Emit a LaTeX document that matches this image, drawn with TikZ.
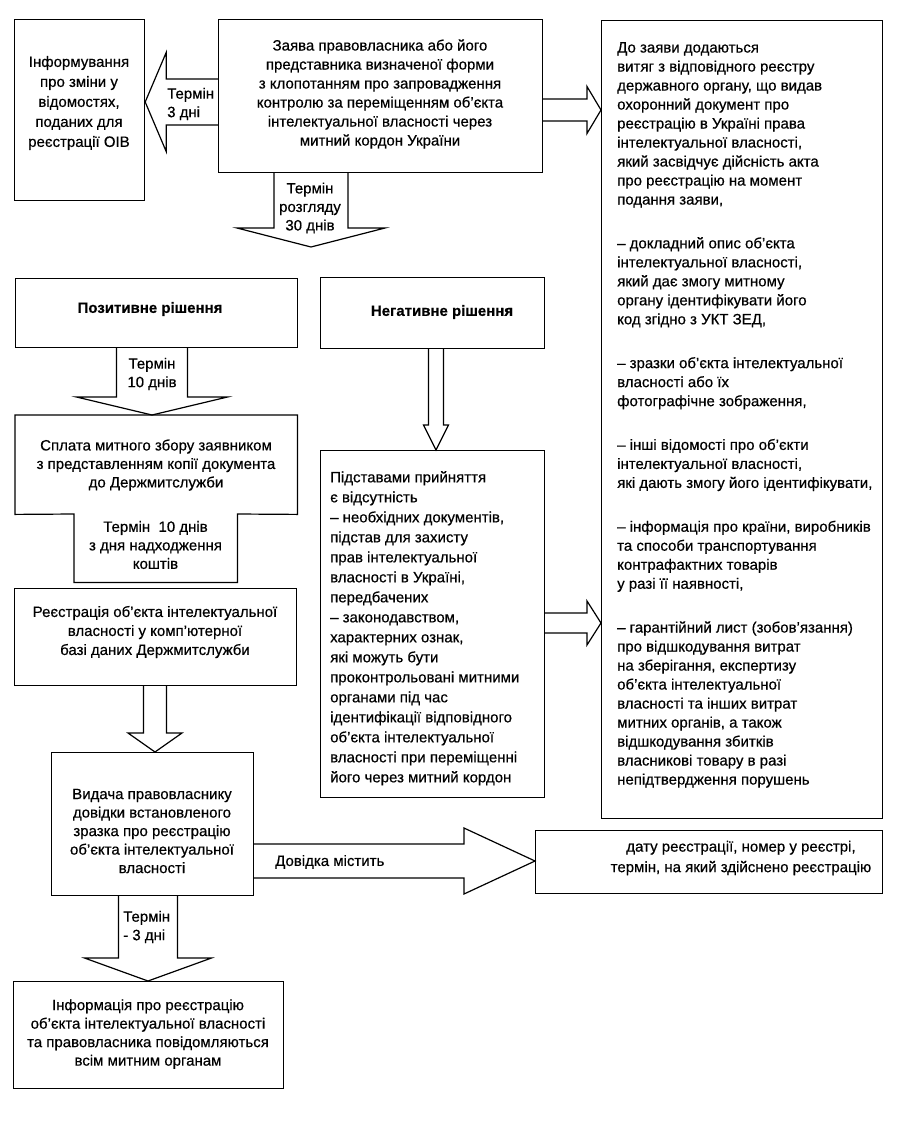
\documentclass[tikz,border=0pt]{standalone}
\usepackage{fontspec}
\setmainfont{Liberation Sans}[FakeBold=0.45]
\usetikzlibrary{calc}
\tikzset{
  box/.style={draw, line width=1.2pt, inner sep=0pt, anchor=north west},
  ghost/.style={inner sep=0pt, anchor=north west},
  blk/.style={draw, line width=1.2pt, line join=miter},
  txt/.style={inner sep=0pt, align=center, font=\fontsize{15}{18.5}\selectfont},
  btxt/.style={inner sep=0pt, align=center, font=\fontsize{15}{18.5}\selectfont\bfseries},
  ltxt/.style={inner sep=0pt, align=left, anchor=north west, font=\fontsize{15}{19}\selectfont},
}
% vertical block arrow: #1 source anchor, #2 tip, #3 shaft half width, #4 head half width, #5 head length
\newcommand\varrow[5]{%
  \draw[blk] let \p1=(#1), \p2=(#2) in
   ({\x2-#3pt},{\y1}) -- ({\x2-#3pt},{\y2+#5pt}) -- ({\x2-#4pt},{\y2+#5pt}) -- ({\x2},{\y2})
   -- ({\x2+#4pt},{\y2+#5pt}) -- ({\x2+#3pt},{\y2+#5pt}) -- ({\x2+#3pt},{\y1});}
% horizontal block arrow: #5 head length (negative = pointing left)
\newcommand\harrow[5]{%
  \draw[blk] let \p1=(#1), \p2=(#2) in
   ({\x1},{\y2+#3pt}) -- ({\x2-1pt*(#5)},{\y2+#3pt}) -- ({\x2-1pt*(#5)},{\y2+#4pt}) -- ({\x2},{\y2})
   -- ({\x2-1pt*(#5)},{\y2-#4pt}) -- ({\x2-1pt*(#5)},{\y2-#3pt}) -- ({\x1},{\y2-#3pt});}
\begin{document}
\begin{tikzpicture}[x=1pt,y=-1pt]
\fill[white] (0,0) rectangle (904,1128);
\useasboundingbox (0,0) rectangle (904,1128);

% boxes
\node[box, minimum width=130pt, minimum height=181pt] (info) at (14,19) {};
\node[txt, font=\fontsize{15}{20}\selectfont] (infot) at (79,103)
  {Інформування\\про зміни у\\відомостях,\\поданих для\\реєстрації ОІВ};

\node[box, minimum width=324pt, minimum height=153pt] (app) at (218,19) {};
\node[txt, font=\fontsize{15}{19}\selectfont] (appt) at (380,94)
  {Заява правовласника або його\\представника визначеної форми\\з клопотанням про запровадження\\контролю за переміщенням об'єкта\\інтелектуальної власності через\\митний кордон України};

\node[box, minimum width=281pt, minimum height=798pt] (att) at (601,20) {};
\node[ltxt] (attt) at (617,42)
  {До заяви додаються\\
   витяг з відповідного реєстру\\
   державного органу, що видав\\
   охоронний документ про\\
   реєстрацію в Україні права\\
   інтелектуальної власності,\\
   який засвідчує дійсність акта\\
   про реєстрацію на момент\\
   подання заяви,\\[24.8pt]
   – докладний опис об'єкта\\
   інтелектуальної власності,\\
   який дає змогу митному\\
   органу ідентифікувати його\\
   код згідно з УКТ ЗЕД,\\[24.8pt]
   – зразки об'єкта інтелектуальної\\
   власності або їх\\
   фотографічне зображення,\\[24.8pt]
   – інші відомості про об'єкти\\
   інтелектуальної власності,\\
   які дають змогу його ідентифікувати,\\[24.8pt]
   – інформація про країни, виробників\\
   та способи транспортування\\
   контрафактних товарів\\
   у разі її наявності,\\[24.8pt]
   – гарантійний лист (зобов'язання)\\
   про відшкодування витрат\\
   на зберігання, експертизу\\
   об'єкта інтелектуальної\\
   власності та інших витрат\\
   митних органів, а також\\
   відшкодування збитків\\
   власникові товару в разі\\
   непідтвердження порушень};

\node[box, minimum width=282pt, minimum height=69pt] (pos) at (15,278) {};
\node[btxt] (post) at (150,309) {Позитивне рішення};

\node[box, minimum width=224pt, minimum height=71pt] (neg) at (320,277) {};
\node[btxt] (negt) at (442,312) {Негативне рішення};

\node[ghost, minimum width=282pt, minimum height=99pt] (pay) at (15,415) {};
\node[ghost, minimum width=163pt, minimum height=68pt] (term) at (74,514) {};
\draw[blk] (pay.north west) -- (pay.north east) -- (pay.south east) -- (term.north east)
  -- (term.south east) -- (term.south west) -- (term.north west) -- (pay.south west) -- cycle;
\node[txt] (payt) at (156,465)
  {Сплата митного збору заявником\\з представленням копії документа\\до Держмитслужби};
\node[txt] (termt) at (155.5,545) {Термін\ \ 10 днів\\з дня надходження\\коштів};

\node[box, minimum width=282pt, minimum height=97pt] (reg) at (14,588) {};
\node[txt, font=\fontsize{15}{19}\selectfont] (regt) at (155,632)
  {Реєстрація об'єкта інтелектуальної\\власності у комп'ютерної\\базі даних Держмитслужби};

\node[box, minimum width=202pt, minimum height=143pt] (iss) at (51,752) {};
\node[txt] (isst) at (152,831)
  {Видача правовласнику\\довідки встановленого\\зразка про реєстрацію\\об'єкта інтелектуальної\\власності};

\node[box, minimum width=224pt, minimum height=347pt] (grounds) at (320,450) {};
\node[ltxt, font=\fontsize{15}{20}\selectfont] (groundst) at (330,471)
  {Підставами прийняття\\є відсутність\\– необхідних документів,\\підстав для захисту\\прав інтелектуальної\\власності в Україні,\\передбачених\\– законодавством,\\характерних ознак,\\які можуть бути\\проконтрольовані митними\\органами під час\\ідентифікації відповідного\\об'єкта інтелектуальної\\власності при переміщенні\\його через митний кордон};

\node[box, minimum width=347pt, minimum height=63pt] (cont) at (535,830) {};
\node[txt, font=\fontsize{15}{20.5}\selectfont] (contt) at (741,858)
  {дату реєстрації, номер у реєстрі,\\термін, на який здійснено реєстрацію};

\node[box, minimum width=270pt, minimum height=107pt] (notify) at (13,981) {};
\node[txt] (notifyt) at (148,1034)
  {Інформація про реєстрацію\\об'єкта інтелектуальної власності\\та правовласника повідомляються\\всім митним органам};

% arrow tips
\coordinate (t1) at (info.east |- 0,102);
\coordinate (t2) at (311,247);
\coordinate (t3) at (att.west |- 0,110);
\coordinate (t4) at (152,0 |- pay.north);
\coordinate (t5) at (436,0 |- grounds.north);
\coordinate (t6) at (att.west |- 0,623);
\coordinate (t7) at (155,0 |- iss.north);
\coordinate (t8) at (cont.west |- 0,861);
\coordinate (t9) at (148,0 |- notify.north);

% block arrows
\harrow{app.west}{t1}{23}{49.5}{-21}
\varrow{app.south}{t2}{37}{74}{19}
\harrow{app.east}{t3}{11}{23.5}{14}
\varrow{pos.south}{t4}{35.5}{75.5}{18}
\varrow{neg.south}{t5}{7.5}{12.5}{25}
\harrow{grounds.east}{t6}{10}{22}{14}
\varrow{reg.south}{t7}{11.5}{27}{19}
\harrow{iss.east}{t8}{17}{33}{71}
\varrow{iss.south}{t9}{29.5}{63.5}{23}

% arrow labels
\node[txt, anchor=west, align=left] (l3) at (167,104) {Термін\\3 дні};
\node[txt] (l30) at (310,208) {Термін\\розгляду\\30 днів};
\node[txt] (l10) at (152,374) {Термін\\10 днів};
\node[txt, anchor=west] (ldov) at (275,862) {Довідка містить};
\node[txt, anchor=west, align=left] (l3b) at (123,927) {Термін\\- 3 дні};
\end{tikzpicture}
\end{document}
